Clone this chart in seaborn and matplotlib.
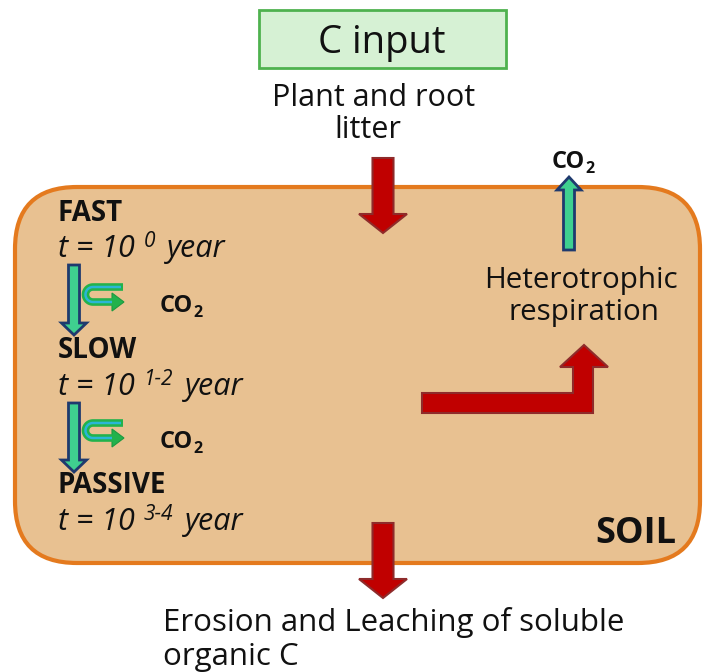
import numpy as np
import matplotlib
matplotlib.use("Agg")
import matplotlib.pyplot as plt
import seaborn as sns
from matplotlib.patches import FancyBboxPatch, FancyArrow, Polygon, Rectangle

# labels of the diagram
input_title = "C input"
input_label = ["Plant and root", "litter"]
pools = ["FAST", "SLOW", "PASSIVE"]
turnover_exp = ["0", "1-2", "3-4"]
resp_label = ["Heterotrophic", "respiration"]
loss_label = ["Erosion and Leaching of soluble", "organic C"]
box_label = "SOIL"

sns.set_theme(style="white")
plt.rcParams["font.family"] = ["Open Sans", "DejaVu Sans"]

RED, RED_EDGE = "#c00000", "#8e2b2b"
NAVY, MINT = "#1f3a6e", "#3fd08f"
TXT = "#111111"

fig = plt.figure(figsize=(7.05, 6.72), dpi=100)
ax = fig.add_axes([0, 0, 1, 1])
ax.set_xlim(0, 705)
ax.set_ylim(672, 0)
ax.axis("off")
renderer = fig.canvas.get_renderer()


def runs(x, y, parts):
    """Draw text pieces one after another: (text, size, dy, kwargs)."""
    for s, size, dy, kw in parts:
        if s == " ":
            x += size
            continue
        t = ax.text(x, y + dy, s, fontsize=size, va="baseline", ha="left", color=TXT, **kw)
        x += t.get_window_extent(renderer).width


def co2(x, y, size):
    runs(x, y, [("CO", size, 0, dict(weight="bold")),
                ("2", size * 0.68, 5, dict(weight="bold"))])


def u_turn(x_end, cx, ya, yb):
    """Green U-shaped arrow leaving the transfer arrow."""
    r = (yb - ya) / 2
    cy = (ya + yb) / 2
    ang = np.linspace(-np.pi / 2, -3 * np.pi / 2, 30)
    xs = np.r_[x_end, cx + r * np.cos(ang), x_end - 10]
    ys = np.r_[ya, cy + r * np.sin(ang), yb]
    ax.plot(xs, ys, color="#22b24c", lw=5.5, solid_capstyle="butt", solid_joinstyle="round")
    ax.plot(np.r_[x_end - 2, xs[1:-1], x_end - 11], np.r_[ya, ys[1:-1], yb],
            color="#2ab6d6", lw=1.8, solid_capstyle="butt")
    ax.add_patch(Polygon([(x_end - 11, yb - 9), (x_end + 1, yb), (x_end - 11, yb + 9)],
                         closed=True, facecolor="#22b24c", edgecolor="#1d9a40", lw=0.8))


# C input box
ax.add_patch(Rectangle((259, 10), 247, 58, facecolor="#d6f1d4", edgecolor="#4fb24f", lw=2))
ax.text(382, 53, input_title, fontsize=27.5, ha="center", va="baseline", color=TXT)
ax.text(374, 106, input_label[0], fontsize=22, ha="center", va="baseline", color=TXT)
ax.text(368, 138, input_label[1], fontsize=22, ha="center", va="baseline", color=TXT)

# soil box
ax.add_patch(FancyBboxPatch((15, 187), 685, 376, boxstyle="round,pad=0,rounding_size=62",
                            facecolor="#e8c191", edgecolor="#e47a1e", lw=3))
ax.text(676, 543, box_label, fontsize=26, weight="bold", ha="right", va="baseline", color=TXT)

# input and loss arrows
for y0, y1 in [(158, 233), (523, 598)]:
    ax.add_patch(FancyArrow(383, y0, 0, y1 - y0, width=21, head_width=48, head_length=19,
                            length_includes_head=True, facecolor=RED, edgecolor=RED_EDGE, lw=1.5))

# pools
name_y = [221, 358, 493]
time_y = [257, 395, 530]
for name, exp, yn, yt in zip(pools, turnover_exp, name_y, time_y):
    ax.text(58, yn, name, fontsize=20, weight="bold", va="baseline", color=TXT)
    runs(58, yt, [("t = 10", 22, 0, dict(style="italic")), (" ", 9, 0, {}),
                  (exp, 15, -10, dict(style="italic")), (" ", 12, 0, {}),
                  ("year", 22, 0, dict(style="italic"))])

# transfer arrows between pools with CO2 losses
for (y0, y1), (ya, yb), yc in zip([(265, 335), (403, 472)], [(287, 302), (423, 438)], [312, 448]):
    ax.add_patch(FancyArrow(74, y0, 0, y1 - y0, width=11, head_width=25, head_length=12,
                            length_includes_head=True, facecolor=MINT, edgecolor=NAVY, lw=2))
    u_turn(123, 93, ya, yb)
    co2(160, yc, 17)

# heterotrophic respiration
ax.add_patch(FancyArrow(569, 250, 0, -73, width=11, head_width=24, head_length=13,
                        length_includes_head=True, facecolor=MINT, edgecolor=NAVY, lw=2))
co2(552, 168, 17)
ax.text(581, 288, resp_label[0], fontsize=21.3, ha="center", va="baseline", color=TXT)
ax.text(584, 320, resp_label[1], fontsize=21.3, ha="center", va="baseline", color=TXT)

ax.add_patch(Polygon([(422, 393), (573, 393), (573, 367), (560, 367), (584, 345), (608, 367),
                      (593, 367), (593, 413), (422, 413)],
                     closed=True, facecolor=RED, edgecolor=RED_EDGE, lw=1.5))

ax.text(163, 631, loss_label[0], fontsize=22.5, va="baseline", color=TXT)
ax.text(163, 665, loss_label[1], fontsize=22.5, va="baseline", color=TXT)

fig.savefig("out.png", dpi=100)
